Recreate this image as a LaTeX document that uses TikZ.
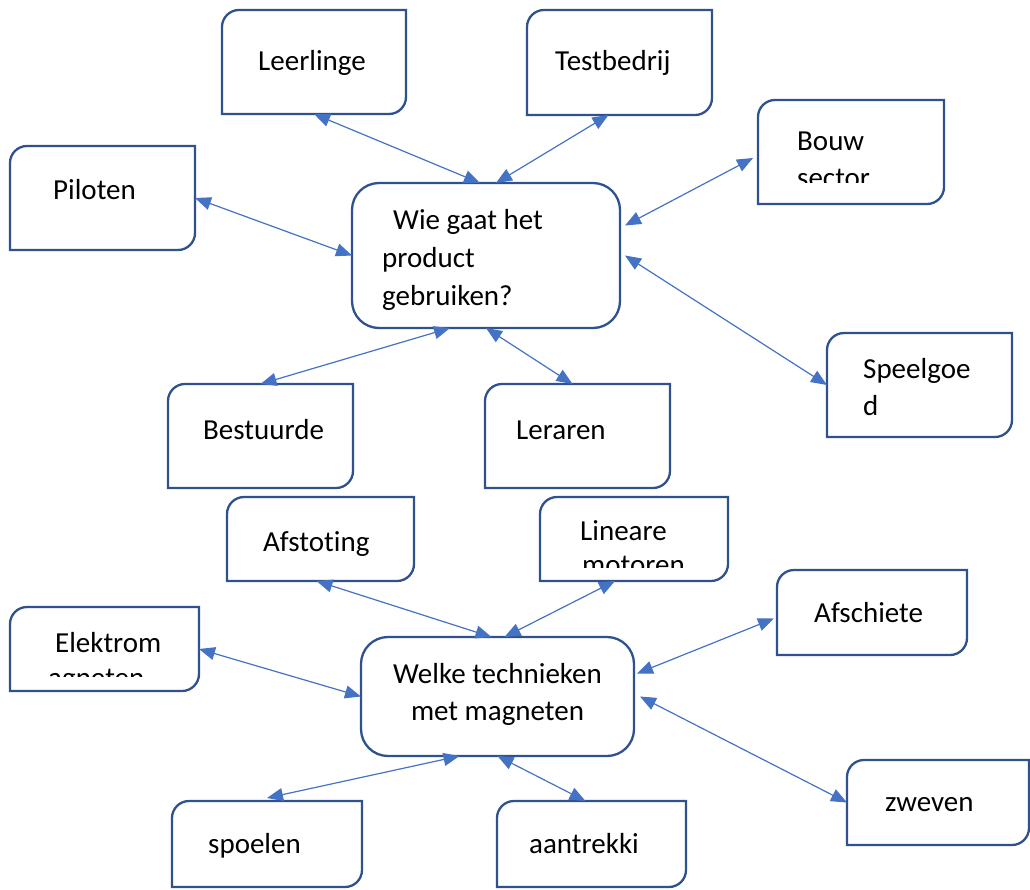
\documentclass[tikz,border=0pt]{standalone}
\usepackage{fontspec}
\setmainfont[RawFeature={-liga;-clig;-calt}]{Carlito}
\usetikzlibrary{arrows.meta}
\definecolor{boxblue}{HTML}{2F528F}
\definecolor{linkblue}{HTML}{4472C4}
\tikzset{
  box/.style={draw=none, inner sep=0pt, outer sep=0pt, anchor=north west},
  outline/.style={draw=boxblue, line width=2.3pt, fill=white},
  lbl/.style={anchor=base west, inner sep=0pt, font=\fontsize{29}{37}\selectfont},
  lblc/.style={anchor=base, inner sep=0pt, font=\fontsize{29}{37}\selectfont},
  link/.style={draw=linkblue, line width=1.2pt,
    {Triangle[length=16pt,width=13pt]}-{Triangle[length=16pt,width=13pt]}},
}
% box node from its corners (x1,y1) to (x2,y2)
\newcommand\placebox[5]{%
  \node[box, minimum width={#4-#2}, minimum height={#5-#3}] (#1) at (#2,#3) {};}
% outline with rounded top-left and bottom-right corners
\newcommand\diagoutline[1]{%
  \path[outline] ([yshift=-17pt]#1.north west) arc[start angle=180,end angle=90,radius=17pt]
    -- (#1.north east) -- ([yshift=17pt]#1.south east)
    arc[start angle=0,end angle=-90,radius=17pt] -- (#1.south west) -- cycle;}
\begin{document}
\begin{tikzpicture}[x=1pt, y=-1pt]
\useasboundingbox (0,0) rectangle (1030,889);

% ---------- who will use the product ----------
\placebox{c1}{352}{183}{620}{328}
\placebox{lee}{222}{10}{406}{114}
\placebox{tes}{527}{10}{712}{115}
\placebox{pil}{10}{146}{195}{250}
\placebox{bou}{758}{100}{944}{204}
\placebox{spe}{827}{333}{1012}{437}
\placebox{bes}{168}{384}{353}{488}
\placebox{ler}{485}{384}{670}{488}

% ---------- techniques with magnets ----------
\placebox{c2}{361}{637}{634}{756}
\placebox{afs}{227}{497}{414}{581}
\placebox{lin}{540}{497}{728}{581}
\placebox{afc}{777}{570}{967}{655}
\placebox{ele}{10}{607}{199}{691}
\placebox{zwe}{847}{760}{1029}{845}
\placebox{spo}{172}{801}{362}{887}
\placebox{aan}{497}{801}{686}{887}

\path[outline, rounded corners=27pt] (c1.north west) rectangle (c1.south east);
\path[outline, rounded corners=27pt] (c2.north west) rectangle (c2.south east);
\foreach \b in {lee,tes,pil,bou,spe,bes,ler,afs,lin,afc,ele,zwe,spo,aan}
  {\diagoutline{\b}}

% ---------- labels ----------
\node[lbl] (tc1a) at (393,229) {Wie gaat het};
\node[lbl] (tc1b) at (382,267) {product};
\node[lbl] (tc1c) at (382,305) {gebruiken?};
\node[lbl] (tlee) at (258,70) {Leerlinge};
\node[lbl] (ttes) at (555,70) {Testbedrij};
\node[lbl] (tpil) at (53,199) {Piloten};
\node[lbl] (tboua) at (797,150) {Bouw};
\begin{scope}
  \clip (758,100) rectangle (944,182);
  \node[lbl] (tboub) at (797,187) {sector};
\end{scope}
\node[lbl] (tspea) at (863,378) {Speelgoe};
\node[lbl] (tspeb) at (863,415) {d};
\node[lbl] (tbes) at (203,439) {Bestuurde};
\node[lbl] (tler) at (516,439) {Leraren};

\node[lblc] (tc2a) at (497.5,683) {Welke technieken};
\node[lblc] (tc2b) at (497.5,720) {met magneten};
\node[lbl] (tafs) at (263,551) {Afstot\kern0pt ing};
\node[lbl] (tlina) at (580,540) {Lineare};
\begin{scope}
  \clip (540,497) rectangle (728,567);
  \node[lbl] (tlinb) at (582,574) {motoren};
\end{scope}
\node[lbl] (tafc) at (814,622) {Afschiete};
\node[lbl] (telea) at (55,652) {Elektrom};
\begin{scope}
  \clip (10,607) rectangle (199,676);
  \node[lbl] (teleb) at (48,687) {agneten};
\end{scope}
\node[lbl] (tzwe) at (885,811) {zweven};
\node[lbl] (tspo) at (208,853) {spoelen};
\node[lbl] (taan) at (529,853) {aantrekki};

% ---------- connectors ----------
\draw[link] (lee.south) -- ([xshift=-6pt]c1.north);
\draw[link] ([xshift=-11pt]tes.south) -- ([xshift=10pt]c1.north);
\draw[link] (pil.east) -- (c1.west);
\draw[link] ([xshift=-5pt,yshift=-6pt]bou.west) -- ([xshift=5pt,yshift=30pt]c1.east);
\draw[link] (spe.west) -- ([xshift=5pt]c1.east);
\draw[link] (bes.north) -- ([xshift=-36pt]c1.south);
\draw[link] ([xshift=-5pt]ler.north) -- (c1.south);

\draw[link] ([xshift=-4pt]afs.south) -- ([xshift=-6pt]c2.north);
\draw[link] ([xshift=-19pt]lin.south) -- ([xshift=7pt]c2.north);
\draw[link] (ele.east) -- (c2.west);
\draw[link] ([xshift=-3pt,yshift=-6pt]afc.west) -- ([xshift=3pt,yshift=23pt]c2.east);
\draw[link] (zwe.west) -- ([xshift=6pt]c2.east);
\draw[link] ([yshift=3pt]spo.north) -- ([xshift=-38pt]c2.south);
\draw[link] ([xshift=-6pt]aan.north) -- (c2.south);
\end{tikzpicture}
\end{document}
